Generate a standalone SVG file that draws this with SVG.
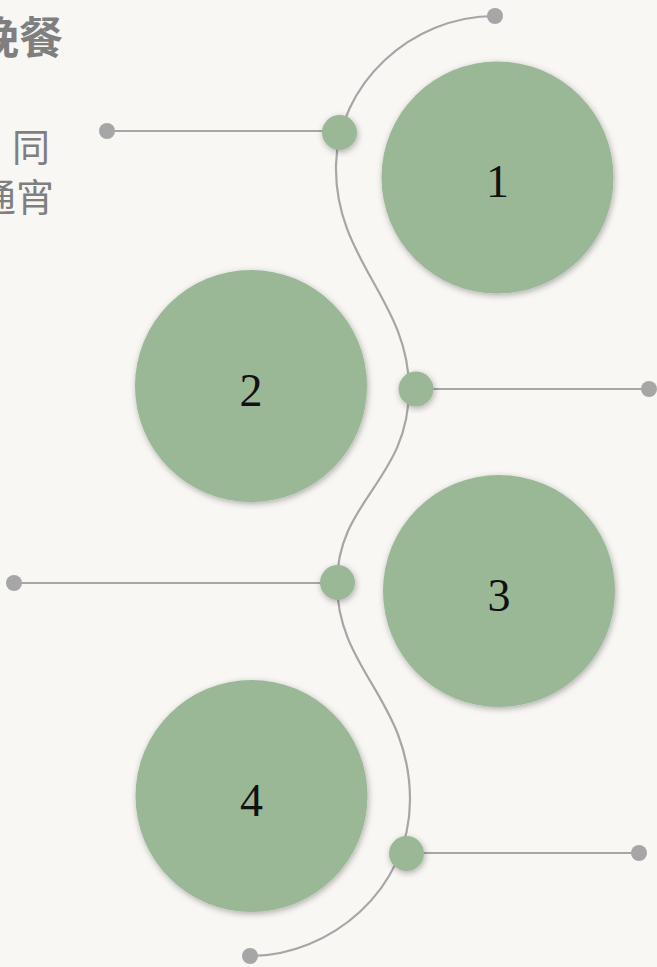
<svg xmlns="http://www.w3.org/2000/svg" width="657" height="967" viewBox="0 0 657 967">
<defs>
<filter id="sh" x="-20%" y="-20%" width="140%" height="140%">
<feDropShadow dx="1" dy="2" stdDeviation="3" flood-color="#000" flood-opacity="0.3"/>
</filter>
<style>
.big{fill:#9bb896;filter:url(#sh)}
.dot{fill:#9bb896;filter:url(#sh)}
.end{fill:#a6a6a6}
.ln{stroke:#a6a6a6;stroke-width:2.2;fill:none}
.num{font-family:"Liberation Serif","DejaVu Serif",serif;font-size:46px;fill:#111;text-anchor:middle}
.txt{font-family:"Noto Sans CJK SC","Noto Sans",sans-serif;fill:#7f7f7f;text-anchor:end}
</style>
</defs>
<rect width="657" height="967" fill="#f8f7f4"/>
<g id="labels">
<text class="txt" x="63" y="54" font-size="44" font-weight="bold">晚餐</text>
<text class="txt" x="50" y="161" font-size="38">同</text>
<text class="txt" x="54" y="211" font-size="38">通宵</text>
</g>
<g id="connectors">
<path class="ln" d="M495,16 C410,16 338,85 336,165 C334,260 409,300 409,389 C409,480 337,500 337,583 C337,670 410,700 410,800 C410,890 330,956 250,956"/>
<line class="ln" x1="107" y1="131" x2="340" y2="131"/>
<line class="ln" x1="416" y1="389" x2="649" y2="389"/>
<line class="ln" x1="14" y1="583" x2="337" y2="583"/>
<line class="ln" x1="406" y1="853" x2="639" y2="853"/>
<circle class="end" cx="495" cy="16" r="8"/>
<circle class="end" cx="107" cy="131" r="8"/>
<circle class="end" cx="649" cy="389" r="8"/>
<circle class="end" cx="14" cy="583" r="8"/>
<circle class="end" cx="639" cy="853" r="8"/>
<circle class="end" cx="250" cy="956" r="8"/>
</g>
<g id="dot1"><circle class="dot" cx="339.5" cy="132.5" r="17.5"/></g>
<g id="dot2"><circle class="dot" cx="416" cy="389" r="17.5"/></g>
<g id="dot3"><circle class="dot" cx="337.5" cy="582.5" r="17.5"/></g>
<g id="dot4"><circle class="dot" cx="406.5" cy="853.5" r="17.5"/></g>
<g id="node1"><circle class="big" cx="497.5" cy="177.5" r="116"/><text class="num" x="497.5" y="197">1</text></g>
<g id="node2"><circle class="big" cx="251" cy="386" r="116"/><text class="num" x="251" y="406">2</text></g>
<g id="node3"><circle class="big" cx="499" cy="591" r="116"/><text class="num" x="499" y="611">3</text></g>
<g id="node4"><circle class="big" cx="251.5" cy="796" r="116"/><text class="num" x="251.5" y="816">4</text></g>
</svg>
